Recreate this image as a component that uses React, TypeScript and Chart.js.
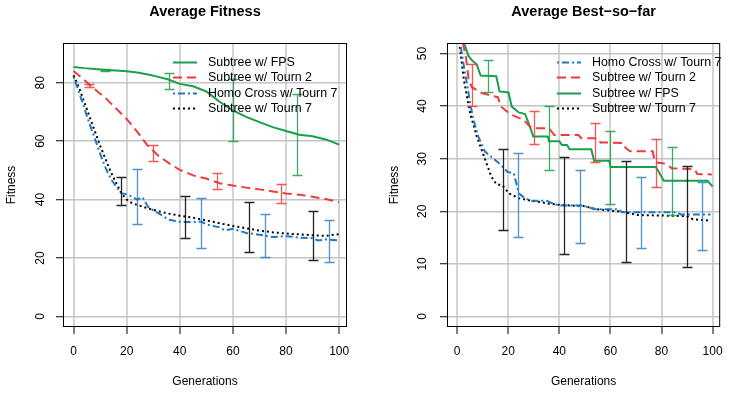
import React, { useEffect, useRef } from 'react';
import { Chart, registerables } from 'chart.js';
Chart.register(...registerables);

const FONT = '"Liberation Sans", Arial, Helvetica, sans-serif';

// ---------- shared ----------
const xTicks = [0, 20, 40, 60, 80, 100];
const fitYTicks = [0, 20, 40, 60, 80];
const bestYTicks = [0, 10, 20, 30, 40, 50];

const GREEN = '#1a9f4a';
const RED = '#ee3b3b';
const BLUE = '#1f78c6';
const BLACK = '#000000';

// ---------- Average Fitness (left) ----------
const fitGens = [0, 4, 8, 12, 16, 20, 24, 28, 32, 36, 40, 45, 50, 55, 60, 65, 70, 75, 80, 85, 90, 95, 100];
const fitFPS = [85.4, 85.0, 84.7, 84.4, 84.2, 83.9, 83.5, 82.8, 82.0, 81.0, 79.6, 78.8, 77.0, 73.5, 70.5, 68.3, 66.5, 64.8, 63.5, 62.2, 61.7, 60.6, 58.8];
const fitT2 = [84.0, 81.0, 77.8, 74.8, 71.2, 67.6, 63.2, 58.4, 55.0, 52.4, 50.2, 48.3, 47.2, 45.6, 44.8, 44.1, 43.5, 42.8, 42.1, 41.7, 41.0, 40.2, 39.1];
const fitHomoGens = [0, 2, 4, 6, 8, 10, 12, 14, 16, 18, 20, 22, 24, 26, 28, 30, 32, 36, 40, 45, 48, 50, 55, 57, 60, 65, 70, 75, 80, 85, 90, 92, 95, 100];
const fitHomo = [82.0, 77.0, 71.5, 66.0, 61.0, 55.8, 51.0, 47.2, 44.5, 42.2, 41.8, 41.0, 40.0, 40.8, 37.6, 36.3, 35.3, 33.1, 32.4, 32.3, 32.5, 31.5, 30.5, 29.5, 30.0, 28.6, 28.0, 27.2, 27.5, 27.0, 26.8, 26.0, 26.4, 26.0];
const fitT7Gens = [0, 2, 4, 6, 8, 10, 12, 14, 16, 18, 20, 22, 24, 28, 32, 36, 40, 45, 50, 55, 60, 65, 70, 75, 80, 85, 90, 95, 100];
const fitT7 = [82.5, 78.5, 73.5, 68.5, 63.5, 58.5, 54.0, 49.5, 45.8, 42.2, 40.0, 38.8, 38.2, 37.0, 36.0, 35.2, 34.5, 33.8, 32.9, 31.9, 31.0, 30.2, 29.4, 28.8, 28.4, 28.1, 27.8, 27.6, 28.2];

const fitFPSErrGens = [12, 36, 60, 84];
const fitFPSErrLo = [84.1, 77.7, 60.0, 48.3];
const fitFPSErrHi = [84.7, 83.4, 81.4, 76.3];
const fitT2ErrGens = [6, 30, 54, 78];
const fitT2ErrLo = [78.7, 53.1, 43.7, 38.8];
const fitT2ErrHi = [79.5, 58.6, 49.1, 45.4];
const fitHomoErrGens = [24, 48, 72, 96];
const fitHomoErrLo = [31.7, 23.4, 20.5, 18.8];
const fitHomoErrHi = [50.6, 40.5, 35.2, 33.1];
const fitT7ErrGens = [18, 42, 66, 90];
const fitT7ErrLo = [38.0, 26.9, 21.9, 19.4];
const fitT7ErrHi = [47.6, 41.1, 39.1, 36.1];

// ---------- Average Best-so-far (right) ----------
const bestHomoGens = [0, 1.4, 2.65, 4, 5.2, 6.4, 8.3, 10.8, 14, 17.2, 19.7, 22.2, 23.5, 24.1, 26.6, 29, 35, 38, 40, 49, 54, 63.3, 64.5, 86, 87.5, 99.2];
const bestHomo = [55, 51.4, 47.6, 43.8, 40.3, 37.4, 34.2, 31.4, 30.1, 28.8, 27.5, 27.2, 24.7, 23.4, 22.5, 22.0, 22.0, 21.4, 21.1, 21.1, 20.4, 20.4, 19.8, 19.8, 19.4, 19.4];
const bestT2Gens = [0, 2, 3.4, 4, 4.5, 5.8, 9.6, 15.9, 17.2, 21, 26, 28.5, 30, 36, 38, 47.5, 48.6, 55, 56.1, 65, 66, 67.7, 76.5, 77.5, 81.4, 84, 92.9, 94, 99.7];
const bestT2 = [60, 52.5, 49.5, 47.3, 45.0, 43.6, 42.5, 41.7, 39.9, 38.4, 37.4, 36.1, 35.8, 35.8, 34.5, 34.5, 33.9, 33.9, 33.1, 33.0, 32.0, 31.4, 31.4, 29.3, 29.1, 28.2, 28.0, 27.1, 27.0];
const bestFPSGens = [0, 1.5, 2.7, 4.5, 6, 7.7, 9.2, 15.3, 16.6, 20.1, 21.4, 24.1, 26.6, 28.5, 29.8, 35.5, 36, 40, 41, 43, 44, 52.5, 53.6, 59.5, 60.1, 77.8, 80.9, 98, 100];
const bestFPS = [60, 54, 52, 49.5, 48.6, 47.9, 45.8, 45.7, 42.8, 42.6, 39.9, 38.8, 38.5, 36.1, 34.2, 34.2, 33.3, 33.3, 32.6, 32.6, 31.8, 31.8, 29.6, 29.6, 28.4, 28.4, 25.8, 25.8, 24.7];
const bestT7Gens = [0, 1, 2.65, 4, 5.2, 6.4, 7.7, 9.6, 11.5, 13.4, 15.3, 17.8, 20.3, 24.1, 29.2, 35.5, 40.5, 49.4, 54.4, 64.5, 70.8, 78.4, 89.8, 92.3, 99.2];
const bestT7 = [56, 51.5, 45.0, 41.5, 38.4, 36.5, 34.2, 31.7, 29.1, 26.6, 25.2, 24.9, 23.4, 22.5, 22.0, 21.5, 21.2, 21.0, 20.4, 19.9, 19.3, 19.2, 19.1, 18.5, 18.2];

const bestHomoErrGens = [24, 48, 72, 96];
const bestHomoErrLo = [15.1, 14.0, 13.0, 12.7];
const bestHomoErrHi = [31.0, 27.9, 26.6, 25.6];
const bestT7ErrGens = [18, 42, 66, 90];
const bestT7ErrLo = [16.5, 11.8, 10.4, 9.4];
const bestT7ErrHi = [31.8, 30.4, 29.6, 28.7];
const bestT2ErrGens = [6, 30, 54, 78];
const bestT2ErrLo = [40.1, 32.8, 29.3, 24.7];
const bestT2ErrHi = [48.0, 39.0, 36.8, 33.8];
const bestFPSErrGens = [12, 36, 60, 84];
const bestFPSErrLo = [42.6, 27.9, 21.4, 19.3];
const bestFPSErrHi = [48.7, 40.1, 35.2, 32.3];

const LBL_FPS = 'Subtree w/ FPS';
const LBL_T2 = 'Subtree w/ Tourn 2';
const LBL_HOMO = 'Homo Cross w/ Tourn 7';
const LBL_T7 = 'Subtree w/ Tourn 7';

const DASH_FPS: number[] = [];
const DASH_T2 = [9, 5];
const DASH_HOMO = [2, 3, 7, 3];
const DASH_T7 = [2, 3];

type Series = {
  label: string; gens: number[]; vals: number[]; color: string; dash: number[];
  eg: number[]; lo: number[]; hi: number[]; errColor: string;
};

type Spec = {
  title: string; yMin: number; yMax: number; yTicks: number[];
  series: Series[]; yAxisWidth: number; rightPad: number; yTitlePad: number; yTickPad: number;
};

const leftSpec: Spec = {
  title: 'Average Fitness', yMin: -3.6, yMax: 93.6, yTicks: fitYTicks,
  yAxisWidth: 63, rightPad: 19, yTitlePad: 4.8, yTickPad: 8.3,
  series: [
    { label: LBL_FPS, gens: fitGens, vals: fitFPS, color: GREEN, dash: DASH_FPS, eg: fitFPSErrGens, lo: fitFPSErrLo, hi: fitFPSErrHi, errColor: 'rgba(26,159,74,0.85)' },
    { label: LBL_T2, gens: fitGens, vals: fitT2, color: RED, dash: DASH_T2, eg: fitT2ErrGens, lo: fitT2ErrLo, hi: fitT2ErrHi, errColor: 'rgba(238,59,59,0.85)' },
    { label: LBL_HOMO, gens: fitHomoGens, vals: fitHomo, color: BLUE, dash: DASH_HOMO, eg: fitHomoErrGens, lo: fitHomoErrLo, hi: fitHomoErrHi, errColor: 'rgba(31,120,198,0.8)' },
    { label: LBL_T7, gens: fitT7Gens, vals: fitT7, color: BLACK, dash: DASH_T7, eg: fitT7ErrGens, lo: fitT7ErrLo, hi: fitT7ErrHi, errColor: 'rgba(0,0,0,0.85)' },
  ],
};

const rightSpec: Spec = {
  title: 'Average Best\u2212so\u2212far', yMin: -2, yMax: 52, yTicks: bestYTicks,
  yAxisWidth: 81, rightPad: 2, yTitlePad: 21.8, yTickPad: 11,
  series: [
    { label: LBL_HOMO, gens: bestHomoGens, vals: bestHomo, color: BLUE, dash: DASH_HOMO, eg: bestHomoErrGens, lo: bestHomoErrLo, hi: bestHomoErrHi, errColor: 'rgba(31,120,198,0.8)' },
    { label: LBL_T2, gens: bestT2Gens, vals: bestT2, color: RED, dash: DASH_T2, eg: bestT2ErrGens, lo: bestT2ErrLo, hi: bestT2ErrHi, errColor: 'rgba(238,59,59,0.85)' },
    { label: LBL_FPS, gens: bestFPSGens, vals: bestFPS, color: GREEN, dash: DASH_FPS, eg: bestFPSErrGens, lo: bestFPSErrLo, hi: bestFPSErrHi, errColor: 'rgba(26,159,74,0.85)' },
    { label: LBL_T7, gens: bestT7Gens, vals: bestT7, color: BLACK, dash: DASH_T7, eg: bestT7ErrGens, lo: bestT7ErrLo, hi: bestT7ErrHi, errColor: 'rgba(0,0,0,0.85)' },
  ],
};

function buildChart(canvas: HTMLCanvasElement, spec: Spec) {
  const extras = {
    id: 'rExtras',
    afterDatasetsDraw(chart: any) {
      const { ctx, chartArea: a, scales } = chart;
      const x = scales.x, y = scales.y;
      // error bars
      ctx.save();
      ctx.beginPath();
      ctx.rect(a.left, a.top, a.right - a.left, a.bottom - a.top);
      ctx.clip();
      ctx.setLineDash([]);
      ctx.lineWidth = 1.3;
      for (const s of spec.series) {
        ctx.strokeStyle = s.errColor;
        s.eg.forEach((g, i) => {
          const px = Math.round(x.getPixelForValue(g)) + 0.5;
          const pl = Math.round(y.getPixelForValue(s.lo[i])) + 0.5;
          const ph = Math.round(y.getPixelForValue(s.hi[i])) + 0.5;
          ctx.beginPath();
          ctx.moveTo(px, pl); ctx.lineTo(px, ph);
          ctx.moveTo(px - 5, pl); ctx.lineTo(px + 5, pl);
          ctx.moveTo(px - 5, ph); ctx.lineTo(px + 5, ph);
          ctx.stroke();
        });
      }
      ctx.restore();
      // legend
      ctx.save();
      ctx.font = `12.4px ${FONT}`;
      ctx.textBaseline = 'middle';
      ctx.textAlign = 'left';
      spec.series.forEach((s, i) => {
        const yy = Math.round(a.top + 18.7 + i * 15.5) + 0.5;
        ctx.strokeStyle = s.color;
        ctx.lineWidth = 2;
        ctx.setLineDash(s.dash);
        ctx.beginPath();
        ctx.moveTo(a.left + 110, yy);
        ctx.lineTo(a.left + 134, yy);
        ctx.stroke();
        ctx.setLineDash([]);
        ctx.fillStyle = '#000';
        ctx.fillText(s.label, a.left + 145, yy);
      });
      ctx.restore();
      // box
      ctx.save();
      ctx.strokeStyle = '#000';
      ctx.lineWidth = 1;
      ctx.setLineDash([]);
      ctx.strokeRect(a.left + 0.5, a.top + 0.5, a.right - a.left - 1, a.bottom - a.top - 1);
      ctx.restore();
    },
  };

  const datasets = spec.series.map((s) => ({
    label: s.label,
    data: s.gens.map((g, i) => ({ x: g, y: s.vals[i] })),
    borderColor: s.color,
    backgroundColor: s.color,
    borderWidth: 2,
    borderDash: s.dash,
    pointRadius: 0,
    fill: false,
    tension: 0,
  }));

  return new Chart(canvas, {
    type: 'line',
    data: { datasets },
    plugins: [extras],
    options: {
      animation: false,
      responsive: false,
      maintainAspectRatio: false,
      layout: { padding: { left: 0, right: spec.rightPad, top: 0, bottom: 0 } },
      plugins: {
        legend: { display: false },
        tooltip: { enabled: false },
        title: {
          display: true, text: spec.title, fullSize: false, color: '#000',
          font: { family: FONT, size: 14.5, weight: 'bold' },
          padding: { top: 3.5, bottom: 22.1 },
        },
      },
      scales: {
        x: {
          type: 'linear', min: -3.96, max: 102.96,
          afterBuildTicks: (s: any) => { s.ticks = xTicks.map((v) => ({ value: v })); },
          afterFit: (s: any) => { s.height = 66; },
          border: { display: false },
          grid: { color: '#d4d4d4', lineWidth: 2, tickColor: '#000', tickLength: 7, tickWidth: 1 },
          ticks: { color: '#000', font: { family: FONT, size: 12 }, padding: 10, maxRotation: 0, autoSkip: false, callback: (v: any) => String(v) },
          title: { display: true, text: 'Generations', color: '#000', font: { family: FONT, size: 12 }, padding: { top: 0, bottom: 4.1 } },
        },
        y: {
          type: 'linear', min: spec.yMin, max: spec.yMax,
          afterBuildTicks: (s: any) => { s.ticks = spec.yTicks.map((v) => ({ value: v })); },
          afterFit: (s: any) => { s.width = spec.yAxisWidth; },
          border: { display: false },
          grid: { color: '#c4c4c4', lineWidth: 1.5, tickColor: '#000', tickLength: 7, tickWidth: 1 },
          ticks: { color: '#000', font: { family: FONT, size: 12 }, padding: spec.yTickPad, minRotation: 90, maxRotation: 90, crossAlign: 'center', autoSkip: false, callback: (v: any) => String(v) },
          title: { display: true, text: 'Fitness', color: '#000', font: { family: FONT, size: 12 }, padding: { top: spec.yTitlePad, bottom: 0 } },
        },
      },
    } as any,
  });
}

export default function App() {
  const leftRef = useRef<HTMLCanvasElement>(null);
  const rightRef = useRef<HTMLCanvasElement>(null);

  useEffect(() => {
    const c1 = buildChart(leftRef.current!, leftSpec);
    const c2 = buildChart(rightRef.current!, rightSpec);
    return () => { c1.destroy(); c2.destroy(); };
  }, []);

  return (
    <div style={{ position: 'fixed', left: 0, top: 0, width: 733, height: 393, background: '#fff', overflow: 'hidden' }}>
      <canvas ref={leftRef} width={366} height={393} style={{ position: 'absolute', left: 0, top: 0, width: 366, height: 393 }} />
      <canvas ref={rightRef} width={367} height={393} style={{ position: 'absolute', left: 366, top: 0, width: 367, height: 393 }} />
    </div>
  );
}
